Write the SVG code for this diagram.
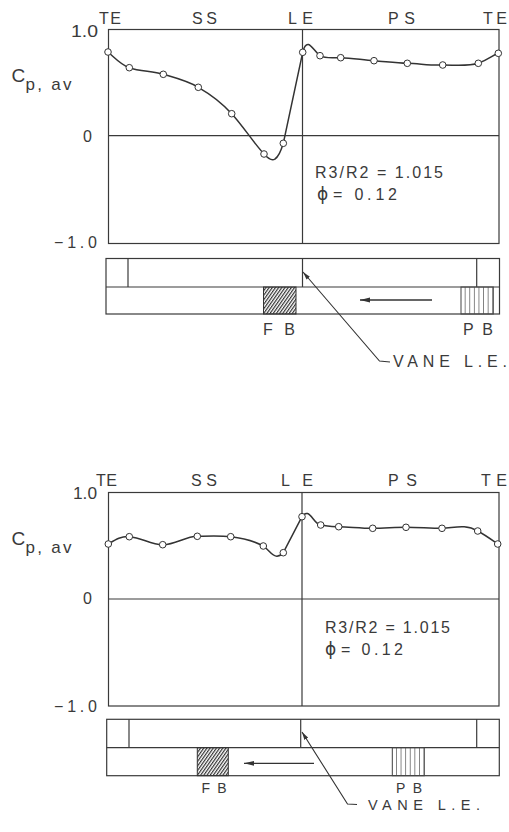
<svg xmlns="http://www.w3.org/2000/svg" width="509" height="832" viewBox="0 0 509 832">
<style>
.ax{fill:none;stroke:#3a3a3a;stroke-width:1.2}
.cv{fill:none;stroke:#333;stroke-width:1.5}
.pt{fill:#fff;stroke:#333;stroke-width:1}
.t{font-family:"Liberation Sans","DejaVu Sans",sans-serif;fill:#3a3a3a;font-size:16px}
.ph{font-family:"DejaVu Sans",sans-serif;fill:#3a3a3a;font-size:17px}
</style>
<defs>
<pattern id="diag" width="2.6" height="2.6" patternUnits="userSpaceOnUse" patternTransform="rotate(35)">
<line x1="0.6" y1="0" x2="0.6" y2="2.6" stroke="#333" stroke-width="1.2"/>
</pattern>
<pattern id="vert" width="4.6" height="10" patternUnits="userSpaceOnUse" x="461">
<line x1="4.3" y1="0" x2="4.3" y2="10" stroke="#555" stroke-width="0.9"/>
</pattern>
<pattern id="vert2" width="4.6" height="10" patternUnits="userSpaceOnUse" x="392.3">
<line x1="4.3" y1="0" x2="4.3" y2="10" stroke="#555" stroke-width="0.9"/>
</pattern>
<marker id="ah" markerWidth="10" markerHeight="6" refX="10" refY="3" orient="auto" markerUnits="userSpaceOnUse">
<path d="M0,0.6 L10,3 L0,5.4 z" fill="#333"/>
</marker>
<marker id="lh" markerWidth="8" markerHeight="6" refX="8" refY="3" orient="auto" markerUnits="userSpaceOnUse">
<path d="M0,0.8 L8,3 L0,5.2 z" fill="#333"/>
</marker>
</defs>

<g id="plot-top">
<rect class="ax" x="108.5" y="29.5" width="390.5" height="214"/>
<line class="ax" x1="108.5" y1="135.7" x2="499" y2="135.7"/>
<line class="ax" x1="302.5" y1="29.5" x2="302.5" y2="243.5"/>
<text class="t" x="98" y="36.5" text-anchor="end" textLength="27" lengthAdjust="spacingAndGlyphs">1.0</text>
<text class="t" x="92" y="141.5" text-anchor="end">0</text>
<text class="t" x="97" y="247.5" text-anchor="end" textLength="43" lengthAdjust="spacing">−1.0</text>
<text class="t" x="11.5" y="82" style="font-size:19px">C</text>
<text class="t" x="25.5" y="90" textLength="46" lengthAdjust="spacing" style="font-size:17px">p, av</text>
<text class="t" x="99" y="23.5" textLength="22" lengthAdjust="spacing">TE</text>
<text class="t" x="192" y="23.5" textLength="25" lengthAdjust="spacing">SS</text>
<text class="t" x="288" y="23.5" textLength="25" lengthAdjust="spacing">LE</text>
<text class="t" x="388" y="23.5" textLength="27" lengthAdjust="spacing">PS</text>
<text class="t" x="483" y="23.5" textLength="24" lengthAdjust="spacing">TE</text>
<text class="t" x="315" y="178" textLength="128" lengthAdjust="spacing">R3/R2 = 1.015</text>
<text class="ph" x="317" y="200">ϕ</text>
<text class="t" x="333" y="200" textLength="64" lengthAdjust="spacing">= 0.12</text>
<path class="cv" d="M108,52 C115,58 121,65 129.3,67.7 C140,71.5 152,71 163.3,74.3 C176,78 188,81 198.3,87.3 C210,94 222,103 231.7,113.7 C243,126 253,142 264,154 C268,158.5 272,161 275,159 C279,156.5 281,151 283.3,143.3 L302.7,52.3 C304,47 306,44 308.5,44.5 C312,45.5 315,52 320,55.7 C326,59 333,57.5 340.7,57.7 C352,58 363,60 374,60.7 C385,61.5 396,63 407.3,63.3 C420,63.7 430,65.5 442.7,65 C456,65 468,66.5 478.3,63.3 C488,60 493,55 498.3,53.3"/>
<g>
<circle class="pt" cx="108" cy="52" r="3.3"/>
<circle class="pt" cx="129.3" cy="67.7" r="3.3"/>
<circle class="pt" cx="163.3" cy="74.3" r="3.3"/>
<circle class="pt" cx="198.3" cy="87.3" r="3.3"/>
<circle class="pt" cx="231.7" cy="113.7" r="3.3"/>
<circle class="pt" cx="264" cy="154" r="3.3"/>
<circle class="pt" cx="283.3" cy="143.3" r="3.3"/>
<circle class="pt" cx="302.7" cy="52.3" r="3.3"/>
<circle class="pt" cx="320" cy="55.7" r="3.3"/>
<circle class="pt" cx="340.7" cy="57.7" r="3.3"/>
<circle class="pt" cx="374" cy="60.7" r="3.3"/>
<circle class="pt" cx="407.3" cy="63.3" r="3.3"/>
<circle class="pt" cx="442.7" cy="65" r="3.3"/>
<circle class="pt" cx="478.3" cy="63.3" r="3.3"/>
<circle class="pt" cx="498.3" cy="53.3" r="3.3"/>
</g>
</g>

<g id="strip-top">
<rect class="ax" x="106" y="258.5" width="393.5" height="55.5"/>
<line class="ax" x1="106" y1="287" x2="499.5" y2="287"/>
<line class="ax" x1="128" y1="258.5" x2="128" y2="287"/>
<line class="ax" x1="302.5" y1="258.5" x2="302.5" y2="287"/>
<line class="ax" x1="476.7" y1="258.5" x2="476.7" y2="287"/>
<rect x="263.5" y="287" width="32.5" height="27" fill="url(#diag)" stroke="#333" stroke-width="1"/>
<rect x="461" y="287" width="32.3" height="27" fill="url(#vert)" stroke="#444" stroke-width="1"/>
<text class="t" x="263" y="334.5" textLength="32" lengthAdjust="spacing">FB</text>
<text class="t" x="463" y="334.5" textLength="30" lengthAdjust="spacing">PB</text>
<text class="t" x="393" y="367" textLength="114" lengthAdjust="spacing">VANE  L.E.</text>
</g>

<g id="plot-bottom">
<rect class="ax" x="108.5" y="492.5" width="390.5" height="213.5"/>
<line class="ax" x1="108.5" y1="599" x2="499" y2="599"/>
<line class="ax" x1="302" y1="492.5" x2="302" y2="706"/>
<text class="t" x="97" y="499" text-anchor="end" textLength="24" lengthAdjust="spacingAndGlyphs">1.0</text>
<text class="t" x="92" y="603.5" text-anchor="end">0</text>
<text class="t" x="97" y="712" text-anchor="end" textLength="43" lengthAdjust="spacing">−1.0</text>
<text class="t" x="11.5" y="545" style="font-size:19px">C</text>
<text class="t" x="25.5" y="553" textLength="46" lengthAdjust="spacing" style="font-size:17px">p, av</text>
<text class="t" x="96" y="486" textLength="21" lengthAdjust="spacing">TE</text>
<text class="t" x="191" y="486" textLength="26" lengthAdjust="spacing">SS</text>
<text class="t" x="281" y="486" textLength="32" lengthAdjust="spacing">LE</text>
<text class="t" x="388" y="486" textLength="29" lengthAdjust="spacing">PS</text>
<text class="t" x="481" y="486" textLength="26" lengthAdjust="spacing">TE</text>
<text class="t" x="325" y="633" textLength="125" lengthAdjust="spacing">R3/R2 = 1.015</text>
<text class="ph" x="325" y="655">ϕ</text>
<text class="t" x="341" y="655" textLength="62" lengthAdjust="spacing">= 0.12</text>
<path class="cv" d="M108.3,544 C115,540 121,536 129.3,536.7 C142,537.5 150,544.5 162.7,544.7 C175,545 185,536.5 197.3,536.3 C210,536 220,535.5 230.7,536.7 C243,538 254,541 263.3,546 C269,550 272,556.5 277,556.3 C280,556 282,555 283.3,552.7 L302,516.7 C303.5,514 305,513 307.5,513.5 C312,515 315,524 320.7,525 C327,526.5 332,526.5 338.7,526.7 C350,527 361,528.3 372.7,528.3 C384,528.3 395,527.3 406,527.3 C418,527.3 430,528.3 442,528.3 C454,528 465,523.5 477.7,531 C486,535.5 492,540 497.7,544"/>
<g>
<circle class="pt" cx="108.3" cy="544" r="3.3"/>
<circle class="pt" cx="129.3" cy="536.7" r="3.3"/>
<circle class="pt" cx="162.7" cy="544.7" r="3.3"/>
<circle class="pt" cx="197.3" cy="536.3" r="3.3"/>
<circle class="pt" cx="230.7" cy="536.7" r="3.3"/>
<circle class="pt" cx="263.3" cy="546" r="3.3"/>
<circle class="pt" cx="283.3" cy="552.7" r="3.3"/>
<circle class="pt" cx="302" cy="516.7" r="3.3"/>
<circle class="pt" cx="320.7" cy="525" r="3.3"/>
<circle class="pt" cx="338.7" cy="526.7" r="3.3"/>
<circle class="pt" cx="372.7" cy="528.3" r="3.3"/>
<circle class="pt" cx="406" cy="527.3" r="3.3"/>
<circle class="pt" cx="442" cy="528.3" r="3.3"/>
<circle class="pt" cx="477.7" cy="531" r="3.3"/>
<circle class="pt" cx="497.7" cy="544" r="3.3"/>
</g>
</g>

<g id="strip-bottom">
<rect class="ax" x="106.7" y="719.3" width="392.6" height="56.4"/>
<line class="ax" x1="106.7" y1="747.7" x2="499.3" y2="747.7"/>
<line class="ax" x1="129" y1="719.3" x2="129" y2="747.7"/>
<line class="ax" x1="300.7" y1="719.3" x2="300.7" y2="747.7"/>
<line class="ax" x1="476.7" y1="719.3" x2="476.7" y2="747.7"/>
<rect x="197.3" y="747.7" width="31" height="28" fill="url(#diag)" stroke="#333" stroke-width="1"/>
<rect x="392.3" y="747.7" width="32" height="28" fill="url(#vert2)" stroke="#444" stroke-width="1"/>
<text class="t" x="201.5" y="793" textLength="25" lengthAdjust="spacing" style="font-size:14px">FB</text>
<text class="t" x="396" y="793" textLength="26" lengthAdjust="spacing" style="font-size:14px">PB</text>
<text class="t" x="368" y="810" textLength="112" lengthAdjust="spacing" style="font-size:14.5px">VANE  L.E.</text>
</g>

<g id="connectors">
<line x1="432" y1="300" x2="360" y2="300" stroke="#333" stroke-width="1.3" marker-end="url(#ah)"/>
<polyline points="390,362 379.5,361 303,272" fill="none" stroke="#333" stroke-width="1.1" marker-end="url(#lh)"/>
<line x1="314" y1="763.3" x2="244" y2="763.3" stroke="#333" stroke-width="1.3" marker-end="url(#ah)"/>
<polyline points="357,804.5 347.5,804 302,732" fill="none" stroke="#333" stroke-width="1.1" marker-end="url(#lh)"/>
</g>
</svg>
